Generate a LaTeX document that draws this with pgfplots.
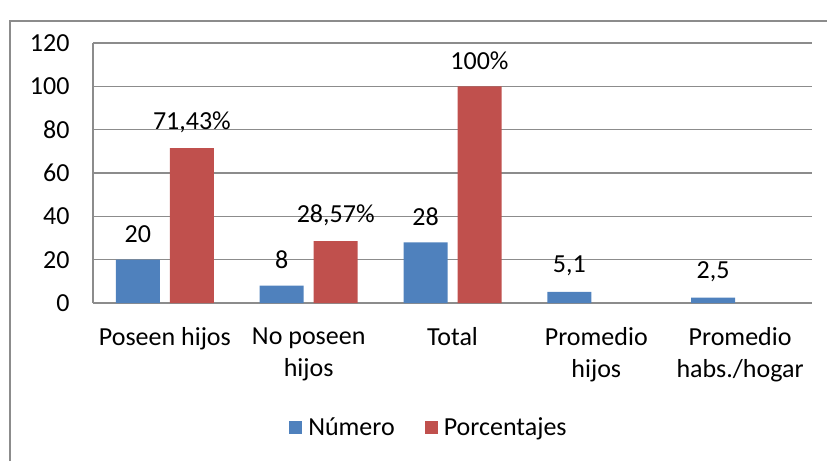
\documentclass[border=0pt]{standalone}
\usepackage{fontspec}
\setmainfont{Carlito}
\usepackage{pgfplots}
\pgfplotsset{compat=1.18}
\definecolor{serieA}{HTML}{4F81BD}
\definecolor{serieB}{HTML}{C0504D}
\definecolor{gridgray}{HTML}{8C8C8C}

\pgfplotsset{sqlegend/.style={legend image code/.code={\fill[##1] (0pt,-6.5pt) rectangle (13pt,6.5pt);}}}

\begin{document}
\begin{tikzpicture}[font=\fontsize{26}{32}\selectfont]
\useasboundingbox (0pt,0pt) rectangle (827pt,461pt);
\draw[gridgray, line width=2pt] (10pt,0pt) -- (10pt,440pt) -- (827pt,440pt);
\begin{axis}[
    at={(93pt,158pt)}, anchor=south west,
    scale only axis, width=719pt, height=260pt,
    ybar=10pt, bar width=44pt,
    xmin=-0.5, xmax=4.5, ymin=0, ymax=120,
    xtick={0,1,2,3,4},
    xticklabels={Poseen hijos, No poseen\\hijos, Total, Promedio\\hijos, Promedio\\habs./hogar},
    xticklabel style={align=center, yshift=-21pt},
    ytick={0,20,...,120},
    yticklabel style={xshift=-20pt},
    /pgf/number format/assume math mode=true,
    major tick length=0pt,
    axis x line*=bottom, axis y line*=left,
    axis line style={gridgray, line width=1.5pt, -},
    ymajorgrids, grid style={gridgray, line width=1.5pt},
    nodes near coords, point meta=explicit symbolic,
    every node near coord/.append style={anchor=center, yshift=26pt, font=\fontsize{26}{32}\selectfont, text=black},
    legend columns=2,
    legend style={draw=none, fill=none, at={(0.47,-0.477)}, anchor=center,
        nodes={inner xsep=6pt},
        /tikz/every even column/.append style={column sep=24pt}},
]
\addplot[fill=serieA, draw=none, sqlegend] coordinates {
    (0,20) [20] (1,8) [8] (2,28) [28] (3,5.1) [5,1] (4,2.5) [2,5]
};
\addplot[fill=serieB, draw=none, sqlegend] coordinates {
    (0,71.43) [71,43\%] (1,28.57) [28,57\%] (2,100) [100\%]
};
\legend{Número, Porcentajes}
\end{axis}
\end{tikzpicture}
\end{document}
